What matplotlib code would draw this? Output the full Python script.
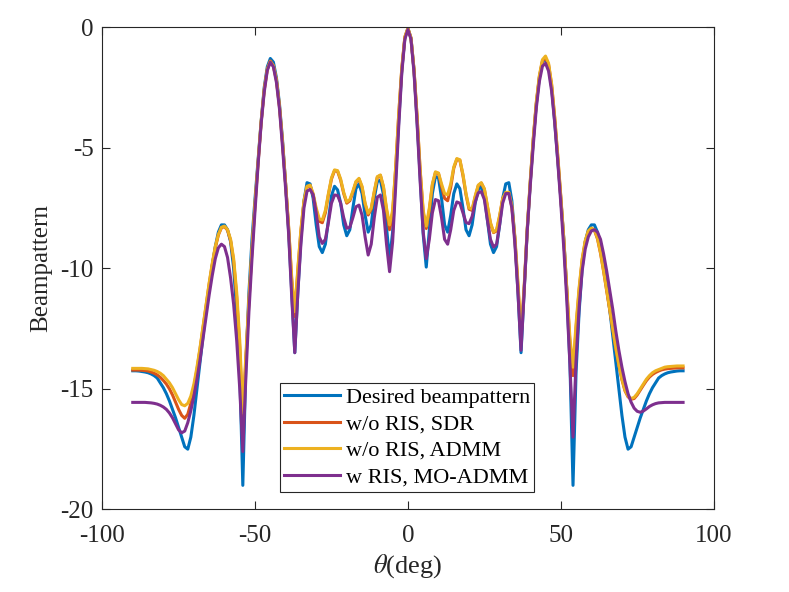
import matplotlib
matplotlib.use('Agg')
import matplotlib.pyplot as plt
import numpy as np

plt.rcParams['font.family'] = ['Liberation Serif', 'DejaVu Serif']
plt.rcParams['mathtext.fontset'] = 'stix'
plt.rcParams['axes.unicode_minus'] = False

# angle grid, 1 degree steps
theta = np.arange(-90, 91)

# desired beampattern (-90 .. 90)
desired = [
    -14.25, -14.25, -14.26, -14.28, -14.3, -14.33, -14.38, -14.45, -14.55, -14.75,
    -14.95, -15.2, -15.5, -15.85, -16.2, -16.6, -17.0, -17.4, -17.5, -17.0,
    -16.1, -15.0, -13.9, -12.8, -11.7, -10.8, -9.9, -9.1, -8.5, -8.2,
    -8.2, -8.4, -8.9, -10.0, -11.8, -14.3, -19.0, -14.0, -11.0, -8.8,
    -7.1, -5.5, -3.9, -2.5, -1.65, -1.3, -1.45, -2.1, -3.2, -4.7,
    -6.5, -8.5, -11.0, -13.5, -11.0, -8.8, -7.2, -6.45, -6.5, -7.1,
    -8.2, -9.1, -9.35, -9.0, -8.0, -7.0, -6.6, -6.75, -7.3, -8.2,
    -8.65, -8.4, -7.5, -6.7, -6.5, -6.9, -7.8, -8.5, -8.2, -7.1,
    -6.4, -6.35, -6.95, -8.3, -9.65, -8.5, -6.2, -3.9, -1.8, -0.45,
    -0.05,
    -0.45, -1.8, -3.9, -6.2, -8.6, -9.95, -8.4, -6.9, -6.2, -6.25,
    -7.1, -8.2, -8.5, -7.8, -6.9, -6.5, -6.7, -7.5, -8.4, -8.65,
    -8.2, -7.3, -6.75, -6.6, -7.0, -8.0, -9.0, -9.35, -9.1, -8.2,
    -7.1, -6.5, -6.45, -7.2, -8.8, -11.0, -13.5, -11.0, -8.5, -6.5,
    -4.7, -3.2, -2.1, -1.45, -1.3, -1.65, -2.5, -3.9, -5.5, -7.1,
    -8.8, -11.0, -14.0, -19.0, -14.3, -11.8, -10.0, -8.9, -8.4, -8.2,
    -8.2, -8.5, -9.1, -9.9, -10.8, -11.7, -12.8, -13.9, -15.0, -16.1,
    -17.0, -17.5, -17.4, -17.0, -16.6, -16.2, -15.85, -15.5, -15.2, -14.95,
    -14.75, -14.55, -14.45, -14.38, -14.33, -14.3, -14.28, -14.26, -14.25, -14.25,
]

# w/o RIS, SDR
sdr = [
    -14.22, -14.22, -14.22, -14.23, -14.24, -14.26, -14.3, -14.35, -14.42, -14.52,
    -14.65, -14.8, -15.0, -15.25, -15.55, -15.85, -16.1, -16.22, -16.05, -15.6,
    -14.95, -14.2, -13.35, -12.45, -11.55, -10.65, -9.85, -9.15, -8.62, -8.32,
    -8.27, -8.42, -8.85, -9.7, -11.2, -13.3, -16.4, -13.8, -11.4, -9.25,
    -7.35, -5.6, -3.95, -2.6, -1.75, -1.4, -1.6, -2.2, -3.3, -4.8,
    -6.5, -8.35, -10.5, -12.0, -10.1, -8.45, -7.25, -6.62, -6.57, -6.95,
    -7.6, -8.05, -8.11, -7.7, -6.95, -6.3, -5.95, -5.98, -6.35, -6.9,
    -7.3, -7.2, -6.85, -6.43, -6.3, -6.65, -7.35, -7.79, -7.55, -6.85,
    -6.22, -6.15, -6.65, -7.6, -8.4, -7.7, -5.85, -3.62, -1.72, -0.42,
    -0.05,
    -0.45, -1.77, -3.72, -5.95, -7.7, -8.35, -7.6, -6.55, -6.03, -6.07,
    -6.6, -7.1, -7.2, -6.65, -5.85, -5.48, -5.52, -6.15, -6.95, -7.55,
    -7.6, -7.05, -6.58, -6.47, -6.72, -7.45, -8.15, -8.52, -8.45, -7.85,
    -7.12, -6.87, -6.87, -7.45, -8.8, -10.75, -12.9, -10.9, -8.45, -6.45,
    -4.65, -3.15, -2.05, -1.4, -1.28, -1.55, -2.4, -3.75, -5.35, -7.05,
    -8.85, -11.0, -13.1, -14.45, -12.5, -10.9, -9.65, -8.9, -8.48, -8.35,
    -8.42, -8.78, -9.38, -10.12, -10.92, -11.72, -12.52, -13.32, -14.02, -14.62,
    -15.08, -15.33, -15.43, -15.4, -15.25, -15.05, -14.85, -14.66, -14.51, -14.4,
    -14.32, -14.26, -14.21, -14.18, -14.16, -14.15, -14.14, -14.13, -14.13, -14.13,
]

# w/o RIS, ADMM
admm = [
    -14.15, -14.15, -14.15, -14.15, -14.16, -14.17, -14.2, -14.23, -14.28, -14.35,
    -14.45, -14.6, -14.75, -14.95, -15.2, -15.45, -15.65, -15.7, -15.6, -15.3,
    -14.8, -14.1, -13.3, -12.4, -11.5, -10.6, -9.8, -9.1, -8.6, -8.3,
    -8.25, -8.4, -8.8, -9.6, -11.0, -13.0, -16.0, -13.6, -11.3, -9.2,
    -7.3, -5.6, -3.9, -2.6, -1.75, -1.43, -1.6, -2.2, -3.3, -4.8,
    -6.5, -8.3, -10.4, -11.8, -10.0, -8.4, -7.2, -6.6, -6.55, -6.9,
    -7.5, -7.95, -8.0, -7.6, -6.9, -6.25, -5.92, -5.95, -6.3, -6.85,
    -7.25, -7.15, -6.8, -6.4, -6.27, -6.6, -7.3, -7.72, -7.5, -6.8,
    -6.2, -6.13, -6.6, -7.5, -8.2, -7.6, -5.8, -3.6, -1.7, -0.4,
    -0.05,
    -0.45, -1.75, -3.7, -5.9, -7.6, -8.25, -7.5, -6.5, -6.0, -6.05,
    -6.5, -6.9, -6.95, -6.5, -5.8, -5.45, -5.5, -6.1, -6.9, -7.5,
    -7.55, -7.0, -6.55, -6.45, -6.7, -7.4, -8.1, -8.5, -8.4, -7.8,
    -7.1, -6.85, -6.85, -7.4, -8.7, -10.6, -12.7, -10.8, -8.4, -6.4,
    -4.6, -3.1, -2.0, -1.35, -1.2, -1.5, -2.35, -3.7, -5.3, -7.0,
    -8.8, -10.9, -12.9, -14.1, -12.3, -10.8, -9.6, -8.85, -8.45, -8.33,
    -8.4, -8.75, -9.35, -10.1, -10.9, -11.7, -12.5, -13.3, -14.0, -14.6,
    -15.05, -15.3, -15.4, -15.35, -15.2, -15.0, -14.8, -14.6, -14.45, -14.33,
    -14.25, -14.2, -14.15, -14.1, -14.08, -14.07, -14.06, -14.05, -14.05, -14.05,
]

# w RIS, MO-ADMM
mo_admm = [
    -15.56, -15.56, -15.56, -15.56, -15.56, -15.57, -15.58, -15.6, -15.63, -15.68,
    -15.75, -15.85, -16.0, -16.2, -16.45, -16.7, -16.82, -16.75, -16.4, -15.9,
    -15.3, -14.6, -13.8, -12.9, -12.0, -11.1, -10.3, -9.6, -9.15, -9.0,
    -9.1, -9.55, -10.4, -11.5, -13.0, -15.0, -17.6, -14.5, -11.8, -9.6,
    -7.6, -5.7, -4.0, -2.7, -1.8, -1.45, -1.65, -2.3, -3.4, -5.0,
    -6.7, -8.6, -11.2, -13.5, -11.0, -9.0, -7.5, -6.8, -6.73, -6.95,
    -7.7, -8.7, -8.97, -8.8, -8.1, -7.3, -6.96, -6.98, -7.3, -7.9,
    -8.34, -8.3, -7.9, -7.45, -7.38, -7.8, -8.7, -9.45, -9.0, -7.9,
    -7.05, -6.96, -7.6, -9.0, -10.14, -8.9, -6.6, -4.1, -1.9, -0.5,
    -0.1,
    -0.5, -1.9, -4.0, -6.4, -8.5, -9.6, -8.8, -7.7, -7.15, -7.2,
    -7.9, -8.8, -9.0, -8.4, -7.6, -7.25, -7.3, -7.7, -8.1, -8.15,
    -7.85, -7.25, -6.87, -6.82, -7.15, -8.0, -8.8, -9.12, -9.0, -8.2,
    -7.3, -6.9, -6.9, -7.5, -9.0, -11.0, -13.4, -11.0, -8.5, -6.6,
    -4.9, -3.35, -2.25, -1.62, -1.5, -1.82, -2.65, -3.95, -5.55, -7.3,
    -9.2, -11.4, -14.0, -17.0, -13.8, -11.6, -10.1, -9.2, -8.7, -8.45,
    -8.4, -8.5, -8.8, -9.4, -10.1, -10.9, -11.7, -12.6, -13.4, -14.1,
    -14.7, -15.2, -15.55, -15.8, -15.93, -15.97, -15.92, -15.83, -15.73, -15.66,
    -15.61, -15.58, -15.57, -15.56, -15.56, -15.56, -15.56, -15.56, -15.56, -15.56,
]

labels = ['Desired beampattern', 'w/o RIS, SDR', 'w/o RIS, ADMM', 'w RIS, MO-ADMM']
colors = ['#0072BD', '#D95319', '#EDB120', '#7E2F8E']

fig = plt.figure(figsize=(7.89, 5.92), dpi=100)
ax = fig.add_axes([0.1295, 0.1394, 0.775, 0.8148])

for y, lab, c in zip([desired, sdr, admm, mo_admm], labels, colors):
    ax.plot(theta, y, color=c, linewidth=2.2, label=lab)

ax.set_xlim(-100, 100)
ax.set_ylim(-20, 0)
ax.set_xticks([-100, -50, 0, 50, 100])
ax.set_yticks([-20, -15, -10, -5, 0])

edge = '#262626'
for s in ax.spines.values():
    s.set_color(edge)
    s.set_linewidth(0.8)
ax.tick_params(direction='in', top=True, right=True, length=6, width=0.8,
               labelsize=18, colors=edge)
ax.tick_params(axis='x', pad=11)
ax.tick_params(axis='y', pad=6)

ax.set_xlabel(r'$\theta$(deg)', fontsize=19, color=edge)
ax.set_ylabel('Beampattern', fontsize=18, color=edge, labelpad=6)

leg = ax.legend(loc='lower left', bbox_to_anchor=(0.2908, 0.0363), borderaxespad=0,
                fontsize=16, fancybox=False, framealpha=1, edgecolor=edge,
                handlelength=2.5, handletextpad=0.25, borderpad=0.2, labelspacing=0.27)
leg.get_frame().set_linewidth(0.8)

fig.savefig('out.png', dpi=100)
